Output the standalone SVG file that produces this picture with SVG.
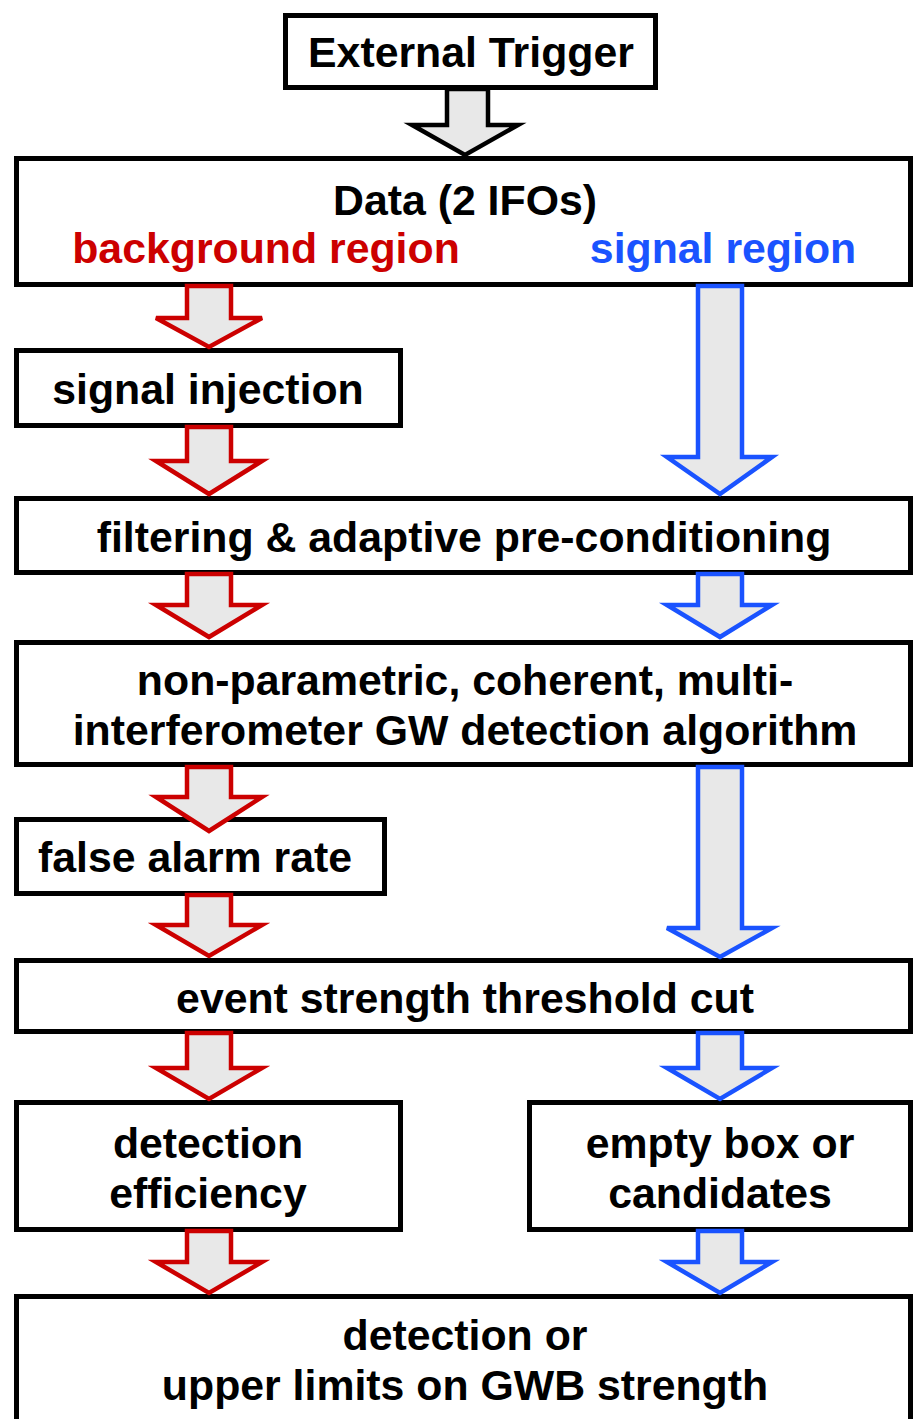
<svg xmlns="http://www.w3.org/2000/svg" width="916" height="1419" viewBox="0 0 916 1419">
  <style>
    .box { fill: #ffffff; stroke: #000000; stroke-width: 5; }
    .lbl { font-family: "Liberation Sans", Arial, sans-serif; font-weight: bold; font-size: 42.8px; text-anchor: middle; fill: #000000; }
    .red { fill: #cc0000; }
    .blue { fill: #1a53ff; }
    .arr { fill: #e8e8e8; stroke-width: 4.5; stroke-linejoin: miter; }
    .arr-k { stroke: #000000; }
    .arr-r { stroke: #cc0000; }
    .arr-b { stroke: #1a53ff; }
  </style>
  <rect width="916" height="1419" fill="#ffffff"/>

  <g id="trigger">
    <rect class="box" x="285.5" y="15.5" width="370" height="72"/>
    <text class="lbl" x="471" y="67">External Trigger</text>
  </g>

  <g id="data">
    <rect class="box" x="16.5" y="158.5" width="894" height="126"/>
    <text class="lbl" x="465" y="215">Data (2 IFOs)</text>
    <text class="lbl red" x="266" y="263">background region</text>
    <text class="lbl blue" x="723" y="263">signal region</text>
  </g>

  <g id="injection">
    <rect class="box" x="16.5" y="350.5" width="384" height="75"/>
    <text class="lbl" x="208" y="404">signal injection</text>
  </g>

  <g id="filtering">
    <rect class="box" x="16.5" y="498.5" width="894" height="74"/>
    <text class="lbl" x="464" y="552">filtering &amp; adaptive pre-conditioning</text>
  </g>

  <g id="algorithm">
    <rect class="box" x="16.5" y="642.5" width="894" height="122"/>
    <text class="lbl" x="465" y="695">non-parametric, coherent, multi-</text>
    <text class="lbl" x="465" y="745">interferometer GW detection algorithm</text>
  </g>

  <g id="false-alarm">
    <rect class="box" x="16.5" y="819.5" width="368" height="74"/>
    <text class="lbl" x="195" y="872">false alarm rate</text>
  </g>

  <g id="threshold">
    <rect class="box" x="16.5" y="960.5" width="894" height="71"/>
    <text class="lbl" x="465" y="1013">event strength threshold cut</text>
  </g>

  <g id="efficiency">
    <rect class="box" x="16.5" y="1102.5" width="384" height="127"/>
    <text class="lbl" x="208" y="1158">detection</text>
    <text class="lbl" x="208" y="1208">efficiency</text>
  </g>

  <g id="candidates">
    <rect class="box" x="529.5" y="1102.5" width="381" height="127"/>
    <text class="lbl" x="720" y="1158">empty box or</text>
    <text class="lbl" x="720" y="1208">candidates</text>
  </g>

  <g id="result">
    <rect class="box" x="16.5" y="1296.5" width="894" height="140"/>
    <text class="lbl" x="465" y="1350">detection or</text>
    <text class="lbl" x="465" y="1400">upper limits on GWB strength</text>
  </g>

  <g id="connectors">
    <!-- block arrows: shaft half-width 22, head half-width 53 -->
    <polygon class="arr arr-k" points="447,89 488,89 488,125 518,125 465,155 412,125 447,125"/>

    <!-- background branch -->
    <polygon class="arr arr-r" points="187,286 231,286 231,318 262,318 209,347 156,318 187,318"/>
    <polygon class="arr arr-r" points="187,427 231,427 231,461 262,461 209,494 156,461 187,461"/>
    <polygon class="arr arr-r" points="187,574 231,574 231,605 262,605 209,637 156,605 187,605"/>
    <polygon class="arr arr-r" points="187,767 231,767 231,797 262,797 209,831 156,797 187,797"/>
    <polygon class="arr arr-r" points="187,895 231,895 231,925 262,925 209,956 156,925 187,925"/>
    <polygon class="arr arr-r" points="187,1033 231,1033 231,1068 262,1068 209,1099 156,1068 187,1068"/>
    <polygon class="arr arr-r" points="187,1231 231,1231 231,1262 262,1262 209,1293 156,1262 187,1262"/>

    <!-- signal branch -->
    <polygon class="arr arr-b" points="698,286 742,286 742,457 772,457 720,494 667,457 698,457"/>
    <polygon class="arr arr-b" points="698,574 742,574 742,605 772,605 720,637 667,605 698,605"/>
    <polygon class="arr arr-b" points="698,767 742,767 742,928 772,928 720,957 667,928 698,928"/>
    <polygon class="arr arr-b" points="698,1033 742,1033 742,1068 772,1068 720,1099 667,1068 698,1068"/>
    <polygon class="arr arr-b" points="698,1231 742,1231 742,1262 772,1262 720,1293 667,1262 698,1262"/>
  </g>
</svg>
